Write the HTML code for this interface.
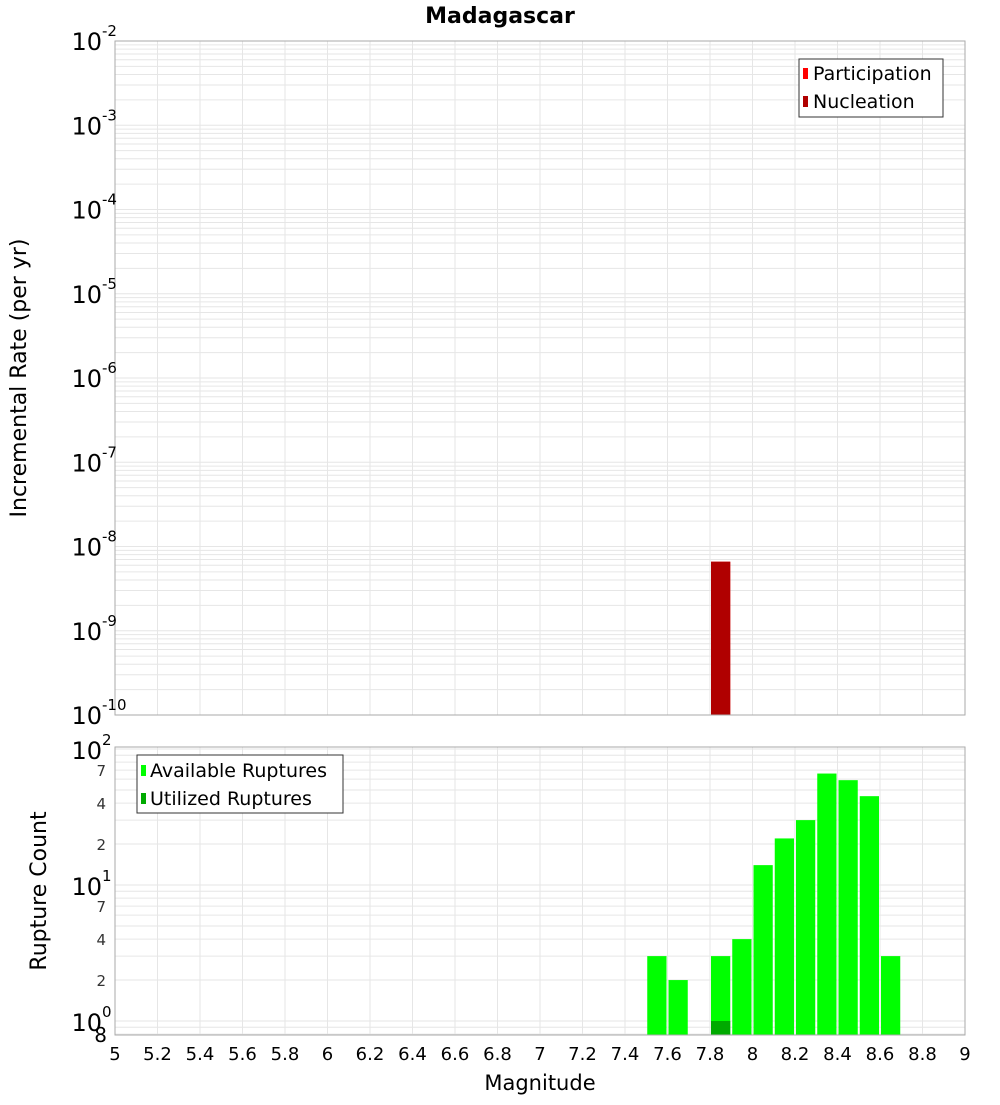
<!DOCTYPE html>
<html><head><meta charset="utf-8"><style>
body{margin:0;background:#fff;}
svg text{font-family:"DejaVu Sans","Liberation Sans",sans-serif;}
</style></head><body>
<svg id="chart" width="1000" height="1100" xmlns="http://www.w3.org/2000/svg">
<text x="500" y="23" text-anchor="middle" font-size="22" font-weight="bold">Madagascar</text>
<g id="topPlot"></g><g id="botPlot"></g>
<text transform="translate(26,378) rotate(-90)" text-anchor="middle" font-size="22">Incremental Rate (per yr)</text>
<text transform="translate(46,891) rotate(-90)" text-anchor="middle" font-size="22">Rupture Count</text>
<text x="540" y="1090" text-anchor="middle" font-size="21">Magnitude</text>
<g id="legends"></g>
</svg>
<script>
const binStarts=[7.5,7.6,7.8,7.9,8.0,8.1,8.2,8.3,8.4,8.5,8.6];
const available=[3,2,3,4,14,22,30,66,59,45,3];
const utilizedBins=[7.8];
const utilized=[1];
const rateBins=[7.8];
const participation=[6.6e-9];
const nucleation=[6.6e-9];
const xTicks=[5,5.2,5.4,5.6,5.8,6,6.2,6.4,6.6,6.8,7,7.2,7.4,7.6,7.8,8,8.2,8.4,8.6,8.8,9];
const topExps=[-2,-3,-4,-5,-6,-7,-8,-9,-10];
const botExps=[2,1,0];
const botMinor=[7,4,2];

const NS='http://www.w3.org/2000/svg';
const L=115,R=965;
const X=m=>L+(m-5)/4*(R-L);
const T0=41,T1=715;
const yTop=v=>T1-(Math.log10(v)+10)/8*(T1-T0);
const B0=747,B1=1035;
const PPD=136, Y1=1021;
const yBot=v=>Y1-Math.log10(v)*PPD;
function el(t,a,p){const e=document.createElementNS(NS,t);for(const k in a)e.setAttribute(k,a[k]);p.appendChild(e);return e;}
const svgEl=document.getElementById('chart');
const topG=document.getElementById('topPlot'), botG=document.getElementById('botPlot');

function grid(g,y0,y1,yFn,minV,maxV){
  el('rect',{x:L,y:y0,width:R-L,height:y1-y0,fill:'#fff'},g);
  for(let e=Math.floor(Math.log10(minV));e<=Math.ceil(Math.log10(maxV));e++){
    for(let k=1;k<10;k++){const v=k*Math.pow(10,e);if(v<minV||v>maxV)continue;const y=yFn(v);
      const ln=el('line',{x1:L,x2:R,y1:y,y2:y,stroke:'#e6e6e6','stroke-width':1},g);
      
      }
  }
  xTicks.forEach(m=>{const x=X(m);const ln=el('line',{x1:x,x2:x,y1:y0,y2:y1,stroke:'#e6e6e6'},g);
    
    });
}
grid(topG,T0,T1,yTop,1e-10,1e-2);
grid(botG,B0,B1,yBot,0.8,100);

rateBins.forEach((b,i)=>{
  const r1=el('rect',{x:X(b)+1,width:X(b+0.1)-X(b)-2,y:yTop(participation[i]),height:T1-yTop(participation[i]),fill:'#ff0000'},topG);
  
  
  const r2=el('rect',{x:X(b)+1,width:X(b+0.1)-X(b)-2,y:yTop(nucleation[i]),height:T1-yTop(nucleation[i]),fill:'#b00000'},topG);
  
  
});
binStarts.forEach((b,i)=>{
  const y=yBot(available[i]);
  const r=el('rect',{x:X(b)+1,width:X(b+0.1)-X(b)-2,y:y,height:B1-y,fill:'#00ff00'},botG);
  
  
});
utilizedBins.forEach((b,i)=>{
  const y=yBot(utilized[i]);
  const r=el('rect',{x:X(b)+1,width:X(b+0.1)-X(b)-2,y:y,height:B1-y,fill:'#00aa00'},botG);
  
  
});
el('rect',{x:L,y:T0,width:R-L,height:T1-T0,fill:'none',stroke:'#aaa'},topG);
el('rect',{x:L,y:B0,width:R-L,height:B1-B0,fill:'none',stroke:'#aaa'},botG);

function powLabel(g,x,y,e,name){
  const t=el('text',{x:x,y:y,'text-anchor':'end','font-size':24},g);
  
  
  t.textContent='10';
  const s=el('text',{x:x,y:y-14,'font-size':15},g);
  
  
  s.textContent=String(e);
}
topExps.forEach(e=>powLabel(topG,102,yTop(Math.pow(10,e))+9,e,'y-tick-top'));
botExps.forEach(e=>powLabel(botG,102,yBot(Math.pow(10,e))+10,e,'y-tick-bottom'));
[1,10].forEach(base=>botMinor.forEach(k=>{
  const t=el('text',{x:106,y:yBot(k*base)+6,'text-anchor':'end','font-size':15,fill:'#333'},botG);
  
  
  t.textContent=k;
}));
{const t=el('text',{x:107,y:1042,'text-anchor':'end','font-size':20},botG);


t.textContent='8';}
xTicks.forEach(m=>{
  const t=el('text',{x:X(m),y:1060,'text-anchor':'middle','font-size':18},svgEl);
  
  
  t.textContent=String(m);
});

const lg=document.getElementById('legends');
lg.innerHTML=`<g>
<rect x="799" y="59" width="144" height="58" fill="#fff" stroke="#333"/>
<rect x="803" y="68" width="5" height="11" fill="#ff0000"/>
<text x="813" y="80" font-size="19">Participation</text>
<rect x="803" y="96" width="5" height="11" fill="#b00000"/>
<text x="813" y="108" font-size="19">Nucleation</text>
</g>
<g>
<rect x="137" y="755" width="206" height="58" fill="#fff" stroke="#333"/>
<rect x="141" y="765" width="5" height="11" fill="#00ff00"/>
<text x="150" y="777" font-size="19">Available Ruptures</text>
<rect x="141" y="793" width="5" height="11" fill="#00aa00"/>
<text x="150" y="805" font-size="19">Utilized Ruptures</text>
</g>`;
</script>
</body></html>
